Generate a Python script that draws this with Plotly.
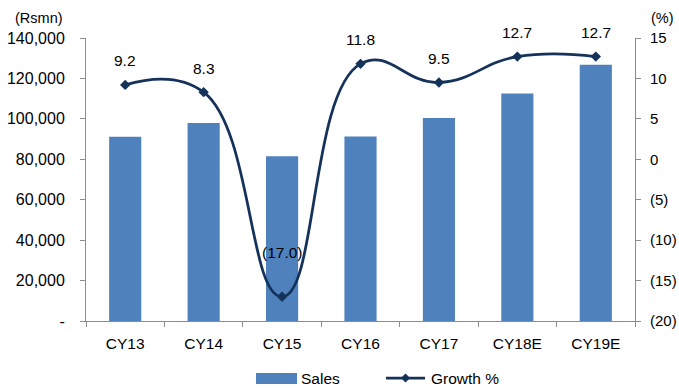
import plotly.graph_objects as go

# Annual sales (Rs mn) and year-on-year growth (%)
years = ["CY13", "CY14", "CY15", "CY16", "CY17", "CY18E", "CY19E"]
sales = [91200, 98000, 81500, 91300, 100400, 112500, 126800]
growth = [9.2, 8.3, -17.0, 11.8, 9.5, 12.7, 12.7]

sales_ticks = [0, 20000, 40000, 60000, 80000, 100000, 120000, 140000]
growth_ticks = [-20, -15, -10, -5, 0, 5, 10, 15]

BAR = "#4F81BD"
LINE = "#14325A"
AXIS = "#8C8C8C"
FONT = "Liberation Sans, Arial, sans-serif"
FS = 15.5

W, H = 679, 389
L, R, T, B = 86, 44, 38, 68
PW, PH = W - L - R, H - T - B


def px(x):
    return (x - L) / PW


def py(y):
    return (H - B - y) / PH


def fmt_sales(v):
    return "-" if v == 0 else f"{v:,.0f}"


def fmt_pct(v, dec=0):
    s = f"{abs(v):.{dec}f}"
    return f"({s})" if v < 0 else s


fig = go.Figure()
fig.add_trace(go.Bar(x=years, y=sales, name="Sales", marker_color=BAR,
                     marker_line_width=0, yaxis="y"))
fig.add_trace(go.Scatter(x=years, y=growth, name="Growth %", yaxis="y2",
                         mode="lines+markers",
                         line=dict(color=LINE, width=2.75, shape="spline", smoothing=1.3),
                         marker=dict(symbol="diamond", size=8, color=LINE)))

annotations = []
for yr, g in zip(years, growth):
    annotations.append(dict(x=yr, y=g, xref="x", yref="y2", text=fmt_pct(g, 1),
                            showarrow=False, yshift=44 if g < 0 else 24,
                            font=dict(family=FONT, size=FS, color="#000")))

# axis unit captions
annotations.append(dict(x=px(39), y=py(18), xref="paper", yref="paper", text="(Rsmn)",
                        showarrow=False, xanchor="center", yanchor="middle",
                        font=dict(family=FONT, size=FS - 1, color="#000")))
annotations.append(dict(x=px(662), y=py(18), xref="paper", yref="paper", text="(%)",
                        showarrow=False, xanchor="center", yanchor="middle",
                        font=dict(family=FONT, size=FS - 1, color="#000")))

# legend
leg_y = py(378)
annotations.append(dict(x=px(299), y=leg_y, xref="paper", yref="paper", text="Sales",
                        showarrow=False, xanchor="left", yanchor="middle",
                        font=dict(family=FONT, size=FS, color="#000")))
annotations.append(dict(x=px(429), y=leg_y, xref="paper", yref="paper", text="Growth %",
                        showarrow=False, xanchor="left", yanchor="middle",
                        font=dict(family=FONT, size=FS, color="#000")))

dx, dy = 4.5 / PW, 4.5 / PH
cx = px(405.5)
shapes = [
    dict(type="rect", xref="paper", yref="paper", x0=px(256), x1=px(297),
         y0=py(384), y1=py(373), fillcolor=BAR, line_width=0),
    dict(type="line", xref="paper", yref="paper", x0=px(386), x1=px(425),
         y0=leg_y, y1=leg_y, line=dict(color=LINE, width=2.75)),
    dict(type="path", xref="paper", yref="paper", fillcolor=LINE, line_width=0,
         path=f"M {cx - dx},{leg_y} L {cx},{leg_y + dy} L {cx + dx},{leg_y} L {cx},{leg_y - dy} Z"),
]

fig.update_layout(
    width=W, height=H,
    margin=dict(l=L, r=R, t=T, b=B, pad=0, autoexpand=False),
    paper_bgcolor="white", plot_bgcolor="white",
    showlegend=False,
    bargap=0.59,
    font=dict(family=FONT, size=FS, color="#000"),
    xaxis=dict(showgrid=False, showline=True, linecolor=AXIS, linewidth=1,
               ticks="outside", tickson="boundaries", ticklen=5, tickcolor=AXIS,
               tickfont=dict(family=FONT, size=FS, color="#000"),
               ticklabelstandoff=8, automargin=False),
    yaxis=dict(range=[0, 140000], showgrid=False, zeroline=False, showline=True,
               linecolor=AXIS, linewidth=1, ticks="outside", ticklen=5, tickcolor=AXIS,
               tickvals=sales_ticks, ticktext=[fmt_sales(v) for v in sales_ticks],
               tickfont=dict(family=FONT, size=FS + 0.5, color="#000"),
               ticklabelstandoff=12, automargin=False),
    yaxis2=dict(range=[-20, 15], overlaying="y", side="right", showgrid=False,
                zeroline=False, showline=True, linecolor=AXIS, linewidth=1,
                ticks="outside", ticklen=5, tickcolor=AXIS,
                tickvals=growth_ticks, ticktext=[fmt_pct(v) for v in growth_ticks],
                tickfont=dict(family=FONT, size=15, color="#000"),
                ticklabelstandoff=6, automargin=False),
    annotations=annotations,
    shapes=shapes,
)

fig.write_html("out.html")
